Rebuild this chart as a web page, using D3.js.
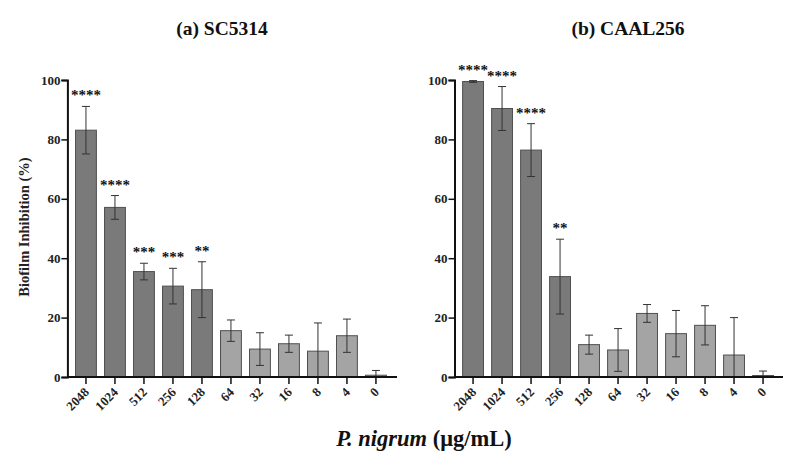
<!DOCTYPE html>
<html><head><meta charset="utf-8">
<script src="https://cdn.jsdelivr.net/npm/d3@7"></script>
<style>body{margin:0;background:#fff}svg{display:block}</style>
</head><body>
<svg id="c" width="796" height="464"></svg>
<script>
const categories = ["2048","1024","512","256","128","64","32","16","8","4","0"];
const yTicks = [0,20,40,60,80,100];
const titleA = "(a) SC5314";
const titleB = "(b) CAAL256";
const valuesA = [83.1,57.1,35.5,30.6,29.4,15.6,9.4,11.2,8.7,13.9,0.6];
const errorsA = [8.0,4.0,2.8,6.0,9.4,3.6,5.5,2.9,9.5,5.6,1.6];
const starsA  = ["****","****","***","***","**","","","","","",""];
const valuesB = [99.5,90.4,76.4,33.8,10.9,9.1,21.4,14.6,17.4,7.4,0.5];
const errorsB = [0.3,7.4,8.9,12.6,3.2,7.2,3.0,7.8,6.6,12.6,1.5];
const starsB  = ["****","****","****","**","","","","","","",""];

const svg = d3.select("#c");
const FONT = "'Liberation Serif','Times New Roman',serif";
const y = d3.scaleLinear().domain([0,100]).range([377,80]);

function panel(x0, x1, axisEnd, values, errors, stars, title, titleX, showYLabel){
  const g = svg.append("g");
  const x = d3.scaleBand().domain(categories).range([x0, x1]).padding(0.28);
  const data = categories.map((c,i)=>({c, v:values[i], e:errors[i], s:stars[i]}));
  // bars
  g.selectAll("rect.bar").data(data).join("rect")
    .attr("x", d=>x(d.c)).attr("width", x.bandwidth())
    .attr("y", d=>y(d.v)).attr("height", d=>y(0)-y(d.v))
    .attr("fill", d=>d.s ? "#7a7a7a" : "#a4a4a4")
    .attr("stroke", "#505050").attr("stroke-width", 1);
  // error bars
  const eg = g.selectAll("g.err").data(data).join("g")
    .attr("stroke","#333").attr("stroke-width",1);
  eg.append("line")
    .attr("x1", d=>x(d.c)+x.bandwidth()/2).attr("x2", d=>x(d.c)+x.bandwidth()/2)
    .attr("y1", d=>y(Math.max(0,d.v-d.e))).attr("y2", d=>y(d.v+d.e));
  eg.append("line")
    .attr("x1", d=>x(d.c)+x.bandwidth()/2-4).attr("x2", d=>x(d.c)+x.bandwidth()/2+4)
    .attr("y1", d=>y(d.v+d.e)).attr("y2", d=>y(d.v+d.e));
  eg.filter(d=>d.v-d.e>0).append("line")
    .attr("x1", d=>x(d.c)+x.bandwidth()/2-4).attr("x2", d=>x(d.c)+x.bandwidth()/2+4)
    .attr("y1", d=>y(d.v-d.e)).attr("y2", d=>y(d.v-d.e));
  // stars
  g.selectAll("text.star").data(data.filter(d=>d.s)).join("text")
    .attr("x", d=>x(d.c)+x.bandwidth()/2).attr("y", d=>y(d.v+d.e)-6)
    .attr("text-anchor","middle").attr("font-family",FONT).attr("font-weight","bold")
    .attr("font-size",15).attr("fill","#111").text(d=>d.s);
  // y axis
  const ya = g.append("g").attr("transform",`translate(${x0},0)`)
    .call(d3.axisLeft(y).tickValues(yTicks).tickSize(6).tickPadding(1));
  ya.select(".domain").attr("stroke","#111").attr("stroke-width",2);
  ya.selectAll(".tick line").attr("stroke","#111").attr("stroke-width",1.5);
  ya.selectAll(".tick text").attr("font-family",FONT).attr("font-weight","bold")
    .attr("font-size",13).attr("fill","#222");
  // x axis
  const xa = g.append("g").attr("transform",`translate(0,${y(0)})`)
    .call(d3.axisBottom(x).tickSize(7).tickSizeOuter(0));
  xa.select(".domain").attr("d",`M${x0},0H${axisEnd}`).attr("stroke","#111").attr("stroke-width",2);
  xa.selectAll(".tick line").attr("stroke","#111").attr("stroke-width",1.5);
  xa.selectAll(".tick text").attr("font-family",FONT).attr("font-weight","bold")
    .attr("font-size",13).attr("fill","#222")
    .attr("text-anchor","end").attr("dy",0).attr("y",0)
    .attr("transform","translate(4,16) rotate(-45)");
  // title
  svg.append("text").attr("x",titleX).attr("y",35).attr("text-anchor","middle")
    .attr("font-family",FONT).attr("font-weight","bold").attr("font-size",19.5)
    .attr("fill","#111").text(title);
  if (showYLabel){
    svg.append("text").attr("transform","translate(29,227) rotate(-90)")
      .attr("text-anchor","middle").attr("font-family",FONT).attr("font-weight","bold")
      .attr("font-size",14.5).attr("fill","#222").text("Biofilm Inhibition (%)");
  }
}

panel(67.4, 394.5, 397, valuesA, errorsA, starsA, titleA, 222, true);
panel(454.5, 781.6, 783, valuesB, errorsB, starsB, titleB, 628, false);

const xl = svg.append("text").attr("x",424).attr("y",446).attr("text-anchor","middle")
  .attr("font-family",FONT).attr("font-weight","bold").attr("font-size",22.5).attr("fill","#111");
xl.append("tspan").attr("font-style","italic").text("P. nigrum");
xl.append("tspan").text(" (μg/mL)");
</script>
</body></html>
